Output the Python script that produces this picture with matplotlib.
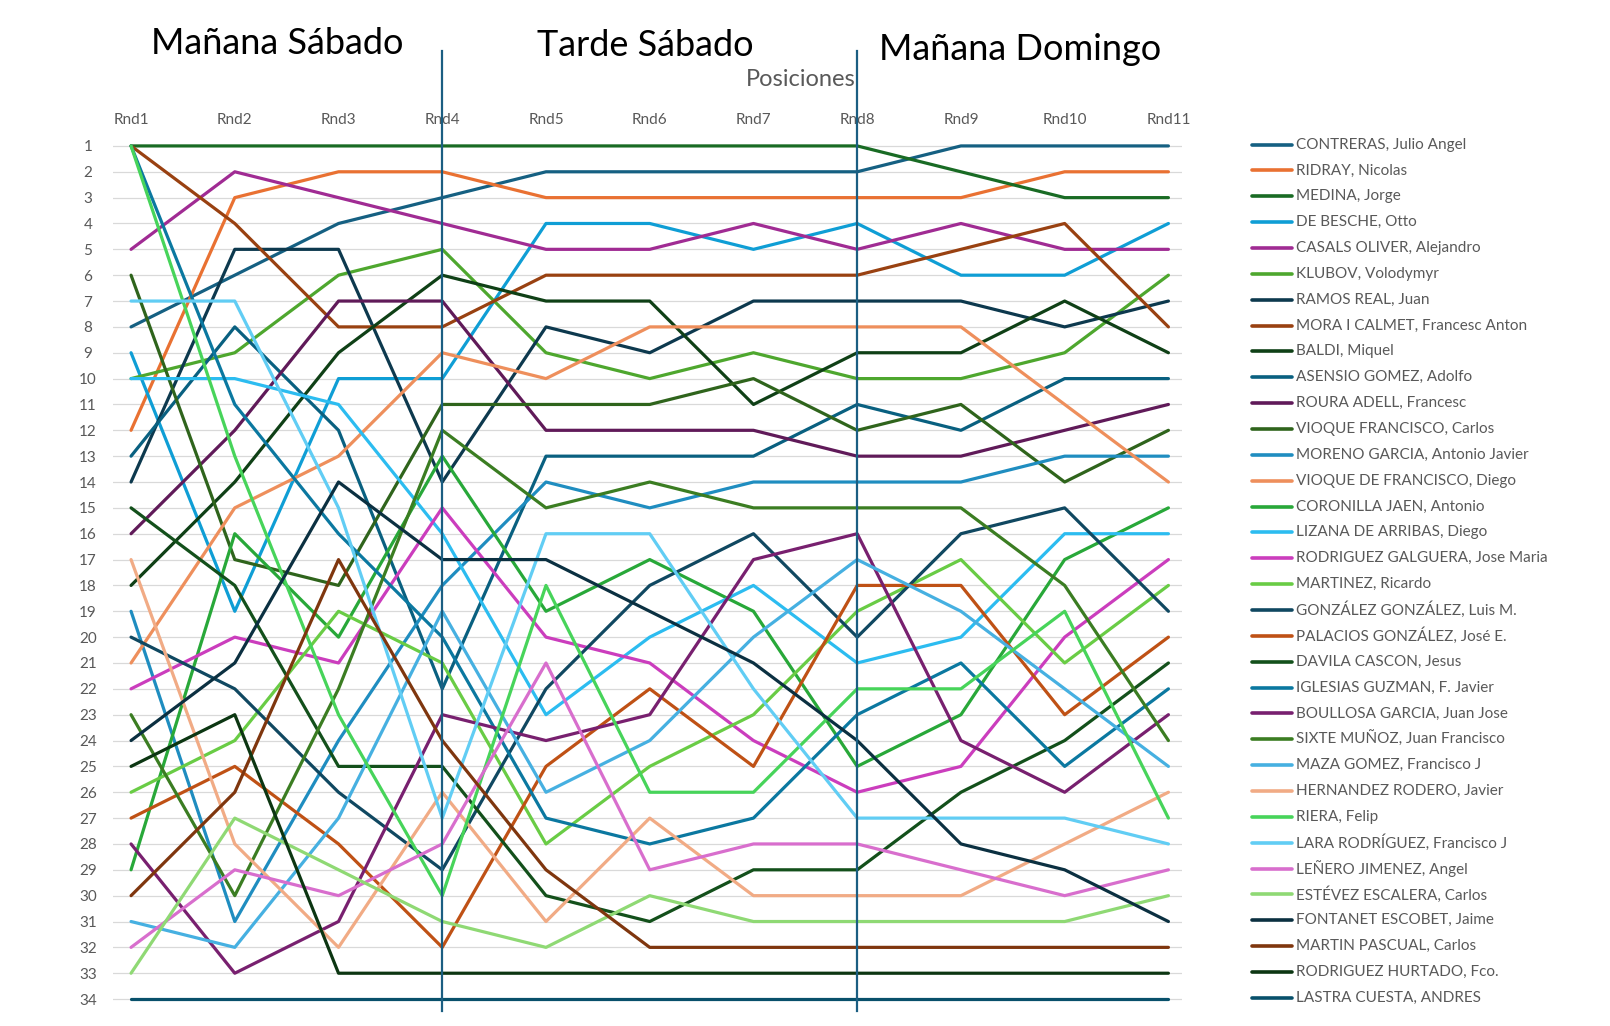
import numpy as np
import matplotlib
matplotlib.use("Agg")
import matplotlib.pyplot as plt
from matplotlib.transforms import blended_transform_factory

# rounds and players (legend order = final ranking)
rounds = ["Rnd1", "Rnd2", "Rnd3", "Rnd4", "Rnd5", "Rnd6", "Rnd7", "Rnd8", "Rnd9", "Rnd10", "Rnd11"]
players = [
    "CONTRERAS, Julio Angel", "RIDRAY, Nicolas", "MEDINA, Jorge", "DE BESCHE, Otto",
    "CASALS OLIVER, Alejandro", "KLUBOV, Volodymyr", "RAMOS REAL, Juan",
    "MORA I CALMET, Francesc Anton", "BALDI, Miquel", "ASENSIO GOMEZ, Adolfo",
    "ROURA ADELL, Francesc", "VIOQUE FRANCISCO, Carlos", "MORENO GARCIA, Antonio Javier",
    "VIOQUE DE FRANCISCO, Diego", "CORONILLA JAEN, Antonio", "LIZANA DE ARRIBAS, Diego",
    "RODRIGUEZ GALGUERA, Jose Maria", "MARTINEZ, Ricardo", "GONZÁLEZ GONZÁLEZ, Luis M.",
    "PALACIOS GONZÁLEZ, José E.", "DAVILA CASCON, Jesus", "IGLESIAS GUZMAN, F. Javier",
    "BOULLOSA GARCIA, Juan Jose", "SIXTE MUÑOZ, Juan Francisco", "MAZA GOMEZ, Francisco J",
    "HERNANDEZ RODERO, Javier", "RIERA, Felip", "LARA RODRÍGUEZ, Francisco J",
    "LEÑERO JIMENEZ, Angel", "ESTÉVEZ ESCALERA, Carlos", "FONTANET ESCOBET, Jaime",
    "MARTIN PASCUAL, Carlos", "RODRIGUEZ HURTADO, Fco.", "LASTRA CUESTA, ANDRES",
]
colors = [
    "#156082", "#E97132", "#196B24", "#0F9ED5", "#A02B93", "#4EA72E",
    "#0D394E", "#994111", "#0F4016", "#096080", "#601A59", "#2F641C",
    "#1F8DC0", "#EE8F5C", "#28A839", "#2CBCF0", "#CB3DBD", "#69CC45",
    "#104861", "#BF5115", "#13501B", "#0B78A0", "#78206F", "#3B7D22",
    "#46B0E1", "#F1AB85", "#47D45A", "#61CDF4", "#D86ECD", "#8FD974",
    "#0B3041", "#7F360E", "#0C3612", "#08506B",
]

# position of each player (legend order) in every round
rnd1 = [8, 12, 1, 9, 5, 10, 14, 1, 18, 13, 16, 6, 19, 21, 29, 10, 22, 26, 20, 27, 15, 1, 28, 23, 31, 17, 1, 7, 32, 33, 24, 30, 25, 34]
rnd2 = [6, 3, 1, 19, 2, 9, 5, 4, 14, 8, 12, 17, 31, 15, 16, 10, 20, 24, 22, 25, 18, 11, 33, 30, 32, 28, 13, 7, 29, 27, 21, 26, 23, 34]
rnd3 = [4, 2, 1, 10, 3, 6, 5, 8, 9, 12, 7, 18, 24, 13, 20, 11, 21, 19, 26, 28, 25, 16, 31, 22, 27, 32, 23, 15, 30, 29, 14, 17, 33, 34]
rnd4 = [3, 2, 1, 10, 4, 5, 14, 8, 6, 22, 7, 11, 18, 9, 13, 16, 15, 21, 29, 32, 25, 20, 23, 12, 19, 26, 30, 27, 28, 31, 17, 24, 33, 34]
rnd5 = [2, 3, 1, 4, 5, 9, 8, 6, 7, 13, 12, 11, 14, 10, 19, 23, 20, 28, 22, 25, 30, 27, 24, 15, 26, 31, 18, 16, 21, 32, 17, 29, 33, 34]
rnd6 = [2, 3, 1, 4, 5, 10, 9, 6, 7, 13, 12, 11, 15, 8, 17, 20, 21, 25, 18, 22, 31, 28, 23, 14, 24, 27, 26, 16, 29, 30, 19, 32, 33, 34]
rnd7 = [2, 3, 1, 5, 4, 9, 7, 6, 11, 13, 12, 10, 14, 8, 19, 18, 24, 23, 16, 25, 29, 27, 17, 15, 20, 30, 26, 22, 28, 31, 21, 32, 33, 34]
rnd8 = [2, 3, 1, 4, 5, 10, 7, 6, 9, 11, 13, 12, 14, 8, 25, 21, 26, 19, 20, 18, 29, 23, 16, 15, 17, 30, 22, 27, 28, 31, 24, 32, 33, 34]
rnd9 = [1, 3, 2, 6, 4, 10, 7, 5, 9, 12, 13, 11, 14, 8, 23, 20, 25, 17, 16, 18, 26, 21, 24, 15, 19, 30, 22, 27, 29, 31, 28, 32, 33, 34]
rnd10 = [1, 2, 3, 6, 5, 9, 8, 4, 7, 10, 12, 14, 13, 11, 17, 16, 20, 21, 15, 23, 24, 25, 26, 18, 22, 28, 19, 27, 30, 31, 29, 32, 33, 34]
rnd11 = list(range(1, 35))

sessions = ["Mañana Sábado", "Tarde Sábado", "Mañana Domingo"]
session_breaks = [3, 7]   # after Rnd4 and Rnd8

plt.rcParams['font.family'] = ['Lato', 'DejaVu Sans']
GREY = "#595959"
W, H = 1610, 1026

fig = plt.figure(figsize=(W / 100, H / 100), dpi=100)
ax = fig.add_axes([113 / W, 1 - 1012 / H, (1182 - 113) / W, (1012 - 133) / H])

table = np.array([rnd1, rnd2, rnd3, rnd4, rnd5, rnd6, rnd7, rnd8, rnd9, rnd10, rnd11]).T
x = np.arange(len(rounds))
for i, (name, col) in enumerate(zip(players, colors)):
    ax.plot(x, table[i], color=col, lw=2.3, solid_joinstyle='round',
            solid_capstyle='round', zorder=3 + i * 0.01)

# axes look
n = len(players)
ax.set_xlim(-0.174, len(rounds) - 1 + 0.131)
ax.set_ylim(n + 0.5, 0.5)
ax.set_yticks(range(1, n + 1))
ax.set_yticklabels([str(v) for v in range(1, n + 1)], ha='center')
ax.set_xticks(x)
ax.set_xticklabels(rounds)
ax.xaxis.tick_top()
ax.tick_params(axis='both', length=0, labelsize=11, labelcolor=GREY)
ax.tick_params(axis='y', pad=18)
ax.tick_params(axis='x', pad=4)
ax.grid(axis='y', color="#D9D9D9", lw=0.9, zorder=0)
for s in ax.spines.values():
    s.set_visible(False)

# session separators
tr = blended_transform_factory(ax.transData, fig.transFigure)
for b in session_breaks:
    ax.plot([b, b], [1 - 51 / H, 1 - 1011 / H], color="#1B5E82", lw=1.6,
            transform=tr, clip_on=False, zorder=10)

# titles
for label, (px, py) in zip(sessions, [(277, 44), (645, 46), (1020, 49)]):
    fig.text(px / W, 1 - py / H, label, fontsize=26, ha='center', va='center', color='black')
fig.text(801 / W, 1 - 80 / H, "Posiciones", fontsize=17, ha='center', va='center', color=GREY)

# legend, one row per final position
lt = blended_transform_factory(fig.transFigure, ax.transData)
for i, (name, col) in enumerate(zip(players, colors)):
    ax.plot([1252 / W, 1292 / W], [i + 0.95, i + 0.95], color=col, lw=2.6,
            transform=lt, clip_on=False, solid_capstyle='round')
    ax.text(1296 / W, i + 0.95, name, transform=lt, fontsize=11, color=GREY,
            va='center', ha='left')

fig.savefig("out.png", dpi=100)
